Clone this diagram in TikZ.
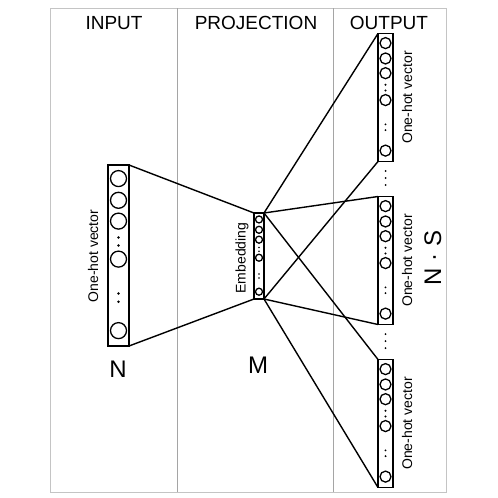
\documentclass[tikz,border=0pt]{standalone}
\usepackage{fontspec}
\setmainfont{Liberation Sans}
\usetikzlibrary{positioning,calc}
\definecolor{framegray}{RGB}{196,196,196}
\definecolor{divgray}{RGB}{165,165,165}
% circles and dots inside one vector box
\newcommand{\vecunits}[3]{%
  \foreach \f in {0.075,0.195,0.31,0.52,0.915}
    \draw[line width=1.3pt] ($(#1.north)!\f!(#1.south)$) circle[radius=#2];
  \foreach \f in {0.40,0.445,0.71,0.755}
    \fill ($(#1.north)!\f!(#1.south)$) circle[radius=#3];
}
\begin{document}
\begin{tikzpicture}[
  x=1pt, y=-1pt,
  layer/.style={draw, line width=1.3pt, inner sep=0pt, outer sep=0pt},
  invec/.style={layer, minimum width=21pt, minimum height=181pt},
  embvec/.style={layer, minimum width=10pt, minimum height=86pt},
  outvec/.style={layer, minimum width=15pt, minimum height=128pt},
  conn/.style={line width=1.4pt},
  title/.style={font=\fontsize{19}{19}\selectfont, anchor=base},
  vlabel/.style={font=\fontsize{14}{14}\selectfont, rotate=90, anchor=base},
  big/.style={font=\fontsize{24}{24}\selectfont, anchor=base}
]
  \useasboundingbox (0,0) rectangle (498,498);

  % frame and columns
  \draw[framegray, line width=0.8pt] (50,8) rectangle (446,492);
  \draw[divgray, line width=0.8pt] (177,8) -- (177,492);
  \draw[divgray, line width=0.8pt] (333,8) -- (333,492);

  \node[title] (tin)  at (114,29) {INPUT};
  \node[title] (tproj) at (256,29) {PROJECTION};
  \node[title] (tout) at (389,29) {OUTPUT};

  % vectors
  \node[invec]  (in)  at (118.5,255.5) {};
  \node[embvec] (emb) at (259,256) {};
  \node[outvec] (out1) at (385.5,97.5) {};
  \node[outvec, below=35pt of out1] (out2) {};
  \node[outvec, below=35pt of out2] (out3) {};

  \vecunits{in}{8}{1.4}
  \vecunits{emb}{3.5}{0.9}
  \vecunits{out1}{5.5}{1.1}
  \vecunits{out2}{5.5}{1.1}
  \vecunits{out3}{5.5}{1.1}

  % dots between output vectors
  \foreach \a/\b in {out1/out2,out2/out3}
    \foreach \d in {-7,0,7}
      \fill ($($(\a.south)!0.5!(\b.north)$)+(0,\d-1)$) circle[radius=1];

  % labels
  \node[vlabel] (inlbl)  at ($(in.west)+(-10,0.5)$) {One-hot vector};
  \node[vlabel] (emblbl) at ($(emb.west)+(-8.5,2)$) {Embedding};
  \foreach \o in {out1,out2,out3}
    \node[vlabel] (\o lbl) at ($(\o.east)+(19,0)$) {One-hot vector};
  \node[big] (nin)  at (118,377) {N};
  \node[big] (memb) at (258,373) {M};
  \node[big, rotate=90] (ns) at (441,258) {N · S};

  % connections
  \draw[conn] (in.north east) -- (emb.north west);
  \draw[conn] (in.south east) -- (emb.south west);
  \foreach \o in {out1,out2,out3} {
    \draw[conn] (emb.north east) -- (\o.north west);
    \draw[conn] (emb.south east) -- (\o.south west);
  }
\end{tikzpicture}
\end{document}
